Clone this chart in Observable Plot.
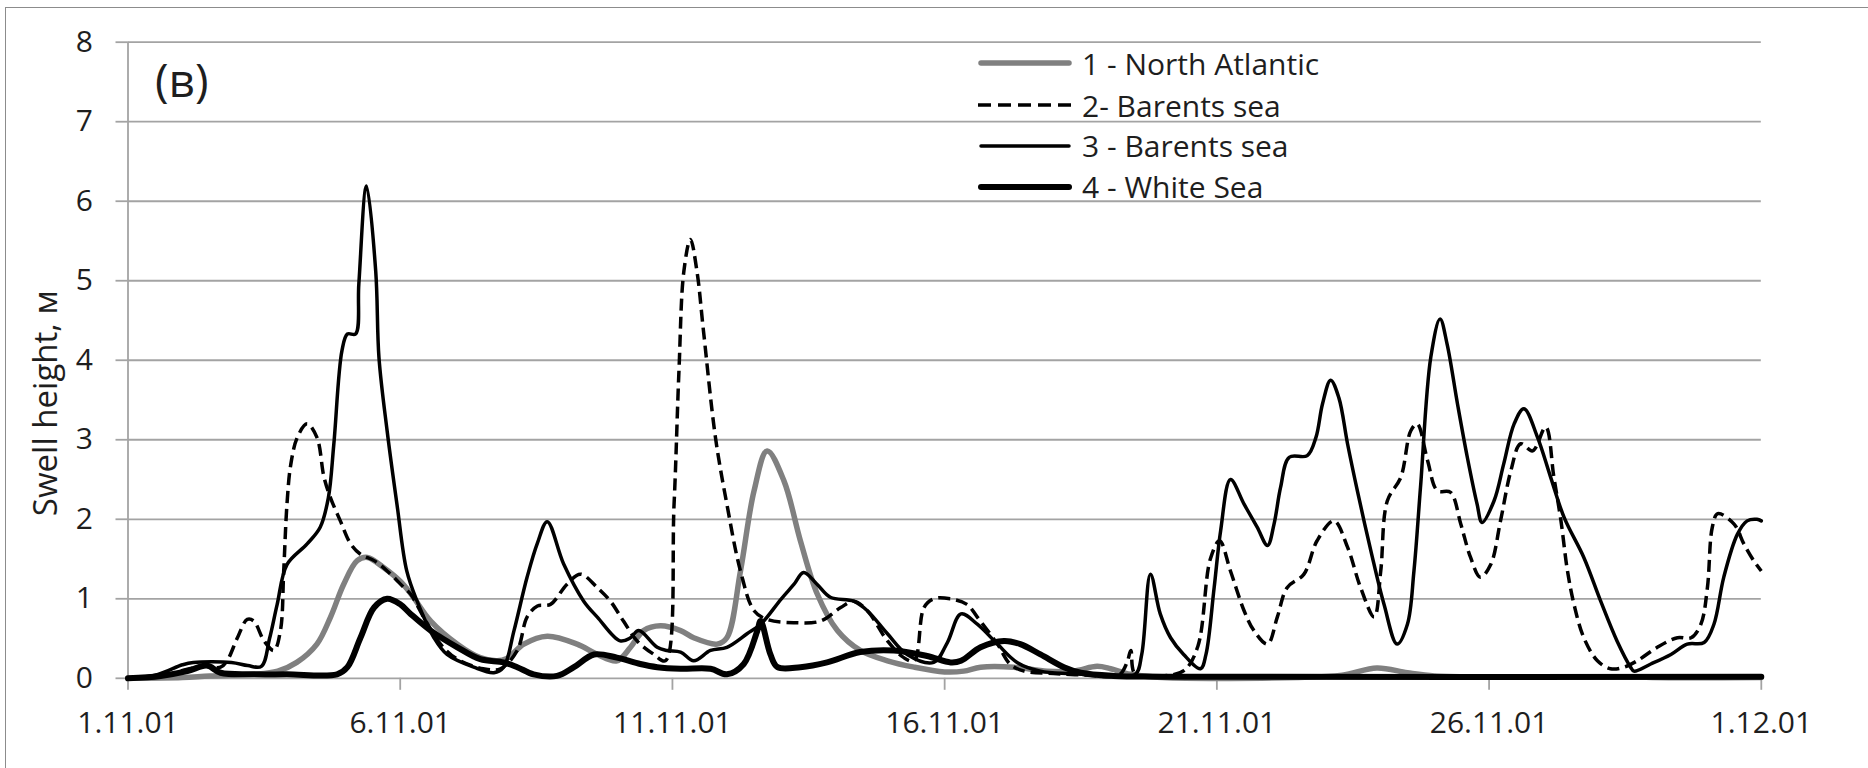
<!DOCTYPE html>
<html><head><meta charset="utf-8">
<script src="https://cdn.jsdelivr.net/npm/d3@7"></script>
<script src="https://cdn.jsdelivr.net/npm/@observablehq/plot@0.6"></script>
<style>
html,body{margin:0;padding:0;background:#fff;overflow:hidden;}
#wrap{position:relative;width:1868px;height:768px;}
#frame{position:absolute;left:5px;top:7px;width:1900px;height:800px;border:1.5px solid #8c8c8c;box-sizing:border-box;}
#chart{position:absolute;left:0;top:0;}
#legend{position:absolute;left:0;top:0;font-family:'Open Sans',sans-serif;font-size:30px;color:#1e1e1e;}
.row{position:absolute;display:flex;align-items:center;height:40px;white-space:nowrap;}
.row svg{margin-right:10px;}
</style></head><body>
<div id="wrap"><div id="frame"></div><div id="chart"></div><div id="legend"></div></div>
<script>
// ---- data: [day offset from 1.11.01, swell height m] ----
const seriesNames = ["1 - North Atlantic", "2- Barents sea", "3 - Barents sea", "4 - White Sea"];
const xTickLabels = ["1.11.01", "6.11.01", "11.11.01", "16.11.01", "21.11.01", "26.11.01", "1.12.01"];
const yTicks = [0, 1, 2, 3, 4, 5, 6, 7, 8];
const panelLabel = "(в)";
const yTitle = "Swell height, м";

const northAtlantic = [[0,0],[1.0,0.01],[1.5,0.03],[2.3,0.05],[2.75,0.09],[3.1,0.2],[3.47,0.43],[3.72,0.77],[3.96,1.18],[4.21,1.48],[4.4,1.52],[4.7,1.39],[5.0,1.22],[5.2,1.06],[5.56,0.72],[6.05,0.43],[6.47,0.26],[6.78,0.22],[6.96,0.25],[7.27,0.43],[7.7,0.53],[8.25,0.43],[8.62,0.3],[8.98,0.22],[9.23,0.39],[9.47,0.6],[9.78,0.66],[10.15,0.6],[10.39,0.51],[10.82,0.43],[11.0,0.51],[11.25,1.35],[11.5,2.36],[11.74,2.86],[12.05,2.48],[12.35,1.73],[12.66,1.06],[13.03,0.6],[13.45,0.35],[13.95,0.22],[14.44,0.14],[15.0,0.08],[15.35,0.09],[15.66,0.14],[16.27,0.14],[16.88,0.09],[17.37,0.09],[17.8,0.15],[18.05,0.12],[18.41,0.05],[19.0,0.01],[21.5,0.01],[22.3,0.04],[22.94,0.13],[23.5,0.07],[24.0,0.03],[25.0,0.02],[27.5,0.02],[28.0,0.01],[30,0.01]];

const barents2 = [[0,0],[0.6,0.02],[1.0,0.1],[1.4,0.15],[1.7,0.14],[1.82,0.22],[2.01,0.51],[2.19,0.74],[2.31,0.72],[2.5,0.47],[2.68,0.35],[2.8,0.6],[2.86,1.35],[2.92,2.19],[2.99,2.69],[3.11,3.03],[3.29,3.2],[3.47,3.03],[3.6,2.53],[3.72,2.27],[3.9,1.98],[4.09,1.69],[4.27,1.56],[4.52,1.48],[4.76,1.35],[5.07,1.14],[5.19,1.06],[5.43,0.77],[5.74,0.43],[6.05,0.24],[6.53,0.12],[6.84,0.12],[7.15,0.35],[7.33,0.77],[7.52,0.91],[7.76,0.93],[8.06,1.18],[8.31,1.31],[8.62,1.14],[8.86,0.97],[9.1,0.72],[9.35,0.47],[9.66,0.3],[9.87,0.22],[10.03,2.19],[10.12,3.87],[10.21,5.12],[10.33,5.52],[10.45,5.12],[10.57,4.37],[10.79,3.03],[11.0,2.19],[11.25,1.35],[11.5,0.85],[11.74,0.74],[12.23,0.7],[12.72,0.72],[13.09,0.89],[13.33,0.97],[13.58,0.85],[13.95,0.47],[14.25,0.26],[14.44,0.22],[14.62,0.89],[14.8,1.0],[15.1,1.0],[15.41,0.93],[15.6,0.77],[15.97,0.43],[16.2,0.18],[16.46,0.09],[17.0,0.06],[17.6,0.04],[18.2,0.04],[18.35,0.2],[18.42,0.35],[18.5,0.05],[19.0,0.03],[19.4,0.1],[19.65,0.4],[19.88,1.5],[20.05,1.73],[20.25,1.35],[20.5,0.85],[20.68,0.6],[20.93,0.43],[21.11,0.77],[21.29,1.14],[21.6,1.31],[21.84,1.73],[22.15,1.98],[22.4,1.65],[22.64,1.14],[22.89,0.77],[23.01,1.35],[23.13,2.23],[23.38,2.53],[23.56,3.11],[23.68,3.2],[23.87,2.74],[24.05,2.36],[24.29,2.34],[24.48,1.94],[24.66,1.52],[24.84,1.27],[25.03,1.43],[25.21,1.98],[25.4,2.61],[25.58,2.95],[25.8,2.86],[26.04,3.16],[26.19,2.53],[26.32,1.98],[26.44,1.35],[26.56,0.93],[26.74,0.51],[26.99,0.22],[27.23,0.12],[27.48,0.14],[27.72,0.22],[28.09,0.39],[28.46,0.51],[28.71,0.51],[28.89,0.68],[29.01,1.14],[29.1,1.9],[29.2,2.07],[29.5,1.94],[29.68,1.69],[29.86,1.48],[30,1.35]];

const barents3 = [[0,0],[0.55,0.05],[1.0,0.17],[1.2,0.2],[1.9,0.2],[2.2,0.16],[2.45,0.15],[2.6,0.5],[2.74,0.93],[2.92,1.43],[3.29,1.69],[3.53,1.9],[3.68,2.27],[3.78,2.94],[3.93,4.12],[4.03,4.33],[4.18,4.33],[4.24,4.96],[4.38,6.19],[4.55,5.12],[4.61,4.03],[4.76,3.11],[4.94,2.19],[5.12,1.35],[5.31,0.97],[5.62,0.51],[5.86,0.3],[6.35,0.14],[6.72,0.07],[6.9,0.14],[7.09,0.6],[7.33,1.27],[7.52,1.7],[7.7,1.97],[8.0,1.44],[8.37,0.97],[8.62,0.77],[9.04,0.47],[9.23,0.51],[9.38,0.6],[9.72,0.39],[9.9,0.35],[10.15,0.33],[10.39,0.22],[10.7,0.35],[11.0,0.39],[11.37,0.56],[11.62,0.68],[12.0,1.0],[12.23,1.18],[12.41,1.33],[12.66,1.18],[12.9,1.02],[13.33,0.97],[13.58,0.85],[13.95,0.56],[14.31,0.3],[14.8,0.2],[15.05,0.45],[15.3,0.81],[15.6,0.68],[15.97,0.43],[16.33,0.2],[16.76,0.09],[17.31,0.06],[18.0,0.04],[18.5,0.05],[18.62,0.3],[18.78,1.31],[18.96,0.81],[19.15,0.51],[19.39,0.3],[19.7,0.12],[19.8,0.3],[19.95,1.14],[20.07,1.86],[20.25,2.5],[20.5,2.19],[20.74,1.9],[20.93,1.67],[21.05,1.94],[21.17,2.4],[21.33,2.78],[21.66,2.8],[21.82,3.03],[21.94,3.45],[22.09,3.75],[22.24,3.53],[22.4,2.95],[22.58,2.36],[22.83,1.6],[23.07,0.93],[23.31,0.43],[23.5,0.68],[23.62,1.35],[23.74,2.4],[23.93,4.04],[24.1,4.52],[24.23,4.2],[24.42,3.45],[24.6,2.78],[24.78,2.19],[24.87,1.96],[25.09,2.23],[25.27,2.7],[25.46,3.2],[25.64,3.39],[25.89,3.03],[26.13,2.53],[26.38,2.02],[26.74,1.52],[27.05,0.97],[27.35,0.47],[27.6,0.14],[27.66,0.09],[27.97,0.18],[28.34,0.3],[28.64,0.43],[28.95,0.45],[29.13,0.68],[29.31,1.27],[29.56,1.81],[29.74,1.98],[29.92,2.0],[30,1.98]];

const whiteSea = [[0,0],[0.6,0.03],[1.09,0.09],[1.45,0.16],[1.7,0.07],[2.31,0.05],[2.92,0.05],[3.84,0.05],[4.03,0.14],[4.27,0.51],[4.52,0.89],[4.76,1.0],[5.0,0.93],[5.19,0.81],[5.56,0.6],[6.05,0.39],[6.47,0.24],[6.9,0.2],[7.15,0.14],[7.45,0.05],[7.88,0.03],[8.19,0.14],[8.56,0.3],[8.98,0.26],[9.41,0.18],[9.72,0.14],[10.15,0.12],[10.7,0.12],[11.0,0.05],[11.31,0.18],[11.56,0.6],[11.62,0.72],[11.8,0.3],[11.93,0.14],[12.35,0.14],[12.84,0.2],[13.45,0.33],[14.07,0.35],[14.68,0.28],[15.11,0.2],[15.3,0.22],[15.66,0.39],[16.09,0.47],[16.39,0.43],[16.76,0.3],[17.19,0.14],[17.5,0.07],[18.1,0.03],[19.0,0.02],[30,0.02]];

// ---- helpers ----
const t0 = Date.UTC(2001, 10, 1);
const toDate = d => new Date(t0 + d * 864e5);
const parseLabel = s => { const [d, m, y] = s.split(".").map(Number); return new Date(Date.UTC(2000 + y, m - 1, d)); };
const xTicks = xTickLabels.map(parseLabel);
const fmt = d => `${d.getUTCDate()}.${String(d.getUTCMonth() + 1).padStart(2, "0")}.${String(d.getUTCFullYear() % 100).padStart(2, "0")}`;

const styles = [
  {stroke: "#808080", strokeWidth: 5.5, dash: null},
  {stroke: "#000", strokeWidth: 3.5, dash: "12,6"},
  {stroke: "#000", strokeWidth: 3.5, dash: null},
  {stroke: "#000", strokeWidth: 6, dash: null}
];
const allSeries = [northAtlantic, barents2, barents3, whiteSea];
const rows = allSeries.map((s, i) => s.map(([d, v]) => ({date: toDate(d), value: v, series: seriesNames[i]})));

const gridColor = "#a3a3a3";
const textColor = "#1e1e1e";
const W = 1868, H = 768;
const mL = 127.5, mR = 107.2, mT = 41.7, mB = 90.2;

const chart = Plot.plot({
  width: W, height: H,
  marginLeft: mL, marginRight: mR, marginTop: mT, marginBottom: mB,
  x: {type: "utc", domain: [toDate(0), toDate(30)]},
  y: {domain: [0, 8]},
  style: {fontFamily: "'Open Sans', sans-serif", fontSize: "30px", color: textColor, background: "transparent"},
  marks: [
    Plot.gridY(yTicks, {stroke: gridColor, strokeOpacity: 1, strokeWidth: 1.8}),
    Plot.ruleX([toDate(0)], {stroke: gridColor, strokeWidth: 1.8}),
    Plot.axisY(yTicks, {tickSize: 12, tickPadding: 23, stroke: gridColor, strokeWidth: 1.8, fill: textColor, fontSize: 30, tickFormat: d => String(d), label: null}),
    Plot.axisX(xTicks, {tickSize: 12, tickPadding: 21, stroke: gridColor, strokeWidth: 1.8, fill: textColor, fontSize: 30, tickFormat: fmt, label: null}),
    ...rows.map((r, i) => Plot.line(r, {
      x: "date", y: "value", curve: "catmull-rom",
      stroke: styles[i].stroke, strokeWidth: styles[i].strokeWidth,
      strokeDasharray: styles[i].dash || undefined, strokeLinejoin: "round", strokeLinecap: styles[i].dash ? "butt" : "round"
    })),
    Plot.text([panelLabel], {frameAnchor: "top-left", text: d => d, textAnchor: "start", lineAnchor: "bottom", dx: 27, dy: 55, fontSize: 46, fill: textColor}),
    Plot.text([yTitle], {frameAnchor: "left", text: d => d, rotate: -90, textAnchor: "middle", lineAnchor: "middle", dx: -82, dy: 43, fontSize: 33, fill: textColor})
  ]
});
document.getElementById("chart").appendChild(chart);

// ---- legend (HTML overlay) ----
const legend = document.getElementById("legend");
const rowCenters = [63.3, 105, 145.7, 186.7];
seriesNames.forEach((name, i) => {
  const row = document.createElement("div");
  row.className = "row";
  row.style.left = "978px";
  row.style.top = (rowCenters[i] - 20) + "px";
  const s = styles[i];
  row.innerHTML = `<svg width="94" height="12"><line x1="${s.dash ? 0 : 3}" x2="${s.dash ? 94 : 91}" y1="6" y2="6" stroke="${s.stroke}" stroke-width="${s.strokeWidth}" ${s.dash ? `stroke-dasharray="13,7"` : ""} stroke-linecap="${s.dash ? "butt" : "round"}"/></svg><span>${name}</span>`;
  legend.appendChild(row);
});
</script>
</body></html>
